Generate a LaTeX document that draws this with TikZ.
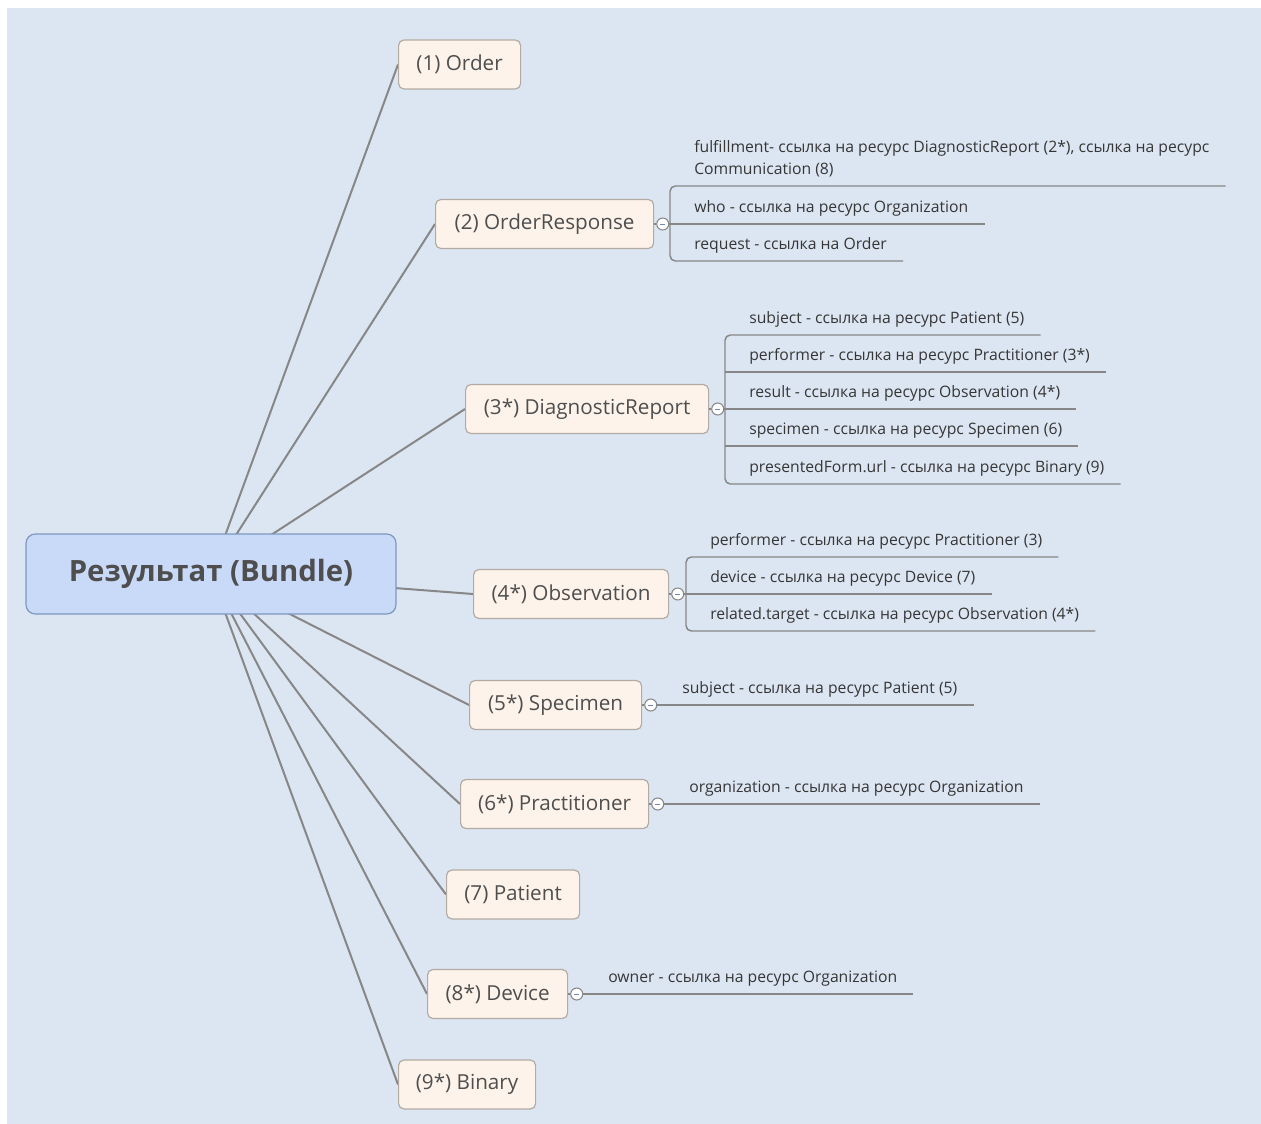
\documentclass[tikz,border=0pt]{standalone}
\usepackage{fontspec}
\setmainfont{Open Sans}
\usetikzlibrary{calc,positioning,backgrounds}
\definecolor{bgblue}{HTML}{DCE6F2}
\definecolor{rootfill}{HTML}{C9DAF8}
\definecolor{rootline}{HTML}{7D97C2}
\definecolor{childfill}{HTML}{FDF3EA}
\definecolor{childline}{HTML}{B3ABA3}
\definecolor{spokegray}{HTML}{878787}
\definecolor{txtgray}{HTML}{4E4E4E}
\definecolor{leaftxt}{HTML}{363636}
\definecolor{minuscol}{HTML}{6F86C8}

\begin{document}
\begin{tikzpicture}[x=0.75pt,y=-0.75pt,
	root/.style={draw=rootline, fill=rootfill, line width=0.9pt, rounded corners=7pt, minimum width=277.5pt, minimum height=60pt, font=\fontsize{22}{26}\selectfont\bfseries, text=txtgray},
	child/.style={draw=childline, fill=childfill, line width=0.9pt, rounded corners=4pt, minimum width=#1*0.75pt, minimum height=36.75pt, inner sep=0pt, anchor=west, font=\fontsize{15.5}{18}\selectfont, text=txtgray},
	leaf/.style={anchor=south west, inner xsep=12pt, inner ysep=5.75pt, text depth=2.5pt, align=left, font=\fontsize{11.8}{16.5}\selectfont, text=leaftxt},
	spoke/.style={draw=spokegray, line width=1.5pt},
	twig/.style={draw=spokegray, line width=1.1pt},
	fold/.style={circle, draw=spokegray, fill=white, line width=0.8pt, minimum size=9pt, inner sep=0pt,
		path picture={\draw[minuscol, line width=0.6pt] ([xshift=-2pt]path picture bounding box.center) -- ([xshift=2pt]path picture bounding box.center);}}
	]
			%%%%% START %%%%%
			
			\useasboundingbox (0,0) rectangle (1261,1124);
			
			\node[root] (bundle) at (211,574) {Результат (Bundle)};
			
			\node[child=122] (order) at (398,64.5) {(1) Order};
			\node[child=218] (ordresp) at (435,224) {(2) OrderResponse};
			\node[child=243] (diag) at (465,409) {(3*) DiagnosticReport};
			\node[child=195] (obs) at (473,594) {(4*) Observation};
			\node[child=172] (spec) at (469,705) {(5*) Specimen};
			\node[child=188] (pract) at (460,804) {(6*) Practitioner};
			\node[child=133] (patient) at (446,894.5) {(7) Patient};
			\node[child=140] (device) at (427,994) {(8*) Device};
			\node[child=137] (binary) at (398,1084.5) {(9*) Binary};
			
			% OrderResponse
			\node[fold, right=1.5pt of ordresp] (ordrespF) {};
			\coordinate (ordrespJ) at (670,224);
			\node[leaf] (fulfil) at (678,186) {fulfillment- ссылка на ресурс DiagnosticReport (2*), ссылка на ресурс\\Communication (8)};
			\node[leaf] (who) at (678,224) {who - ссылка на ресурс Organization};
			\node[leaf] (request) at (678,261) {request - ссылка на Order};
			\draw[twig] (ordresp.east) -- (ordrespF.west);
			\draw[twig] (ordrespF.east) -- (ordrespJ);
			\draw[twig, rounded corners=4pt] (fulfil.south east) -- (fulfil.south east -| ordrespJ) -- (request.south east -| ordrespJ) -- (request.south east);
			\draw[twig] (who.south east) -- (who.south east -| ordrespJ);
			
			% DiagnosticReport
			\node[fold, right=1.5pt of diag] (diagF) {};
			\coordinate (diagJ) at (725,409);
			\node[leaf] (subject) at (733,335) {subject - ссылка на ресурс Patient (5)};
			\node[leaf] (performer) at (733,372) {performer - ссылка на ресурс Practitioner (3*)};
			\node[leaf] (result) at (733,409) {result - ссылка на ресурс Observation (4*)};
			\node[leaf] (specimen) at (733,446) {specimen - ссылка на ресурс Specimen (6)};
			\node[leaf] (presented) at (733,484) {presentedForm.url - ссылка на ресурс Binary (9)};
			\draw[twig] (diag.east) -- (diagF.west);
			\draw[twig] (diagF.east) -- (diagJ);
			\draw[twig, rounded corners=4pt] (subject.south east) -- (subject.south east -| diagJ) -- (presented.south east -| diagJ) -- (presented.south east);
			\draw[twig] (performer.south east) -- (performer.south east -| diagJ);
			\draw[twig] (result.south east) -- (result.south east -| diagJ);
			\draw[twig] (specimen.south east) -- (specimen.south east -| diagJ);
			
			% Observation
			\node[fold, right=1.5pt of obs] (obsF) {};
			\coordinate (obsJ) at (686,594);
			\node[leaf] (obsperf) at (694,557) {performer - ссылка на ресурс Practitioner (3)};
			\node[leaf] (obsdev) at (694,594) {device - ссылка на ресурс Device (7)};
			\node[leaf] (related) at (694,631) {related.target - ссылка на ресурс Observation (4*)};
			\draw[twig] (obs.east) -- (obsF.west);
			\draw[twig] (obsF.east) -- (obsJ);
			\draw[twig, rounded corners=4pt] (obsperf.south east) -- (obsperf.south east -| obsJ) -- (related.south east -| obsJ) -- (related.south east);
			\draw[twig] (obsdev.south east) -- (obsdev.south east -| obsJ);
			
			% single leaves
			\node[fold, right=1.5pt of spec] (specF) {};
			\node[leaf] (specsubj) at (666,705) {subject - ссылка на ресурс Patient (5)};
			\draw[twig] (spec.east) -- (specF.west);
			\draw[twig] (specF.east) -- (specsubj.south east);
			
			\node[fold, right=1.5pt of pract] (practF) {};
			\node[leaf] (practorg) at (673,804) {organization - ссылка на ресурс Organization};
			\draw[twig] (pract.east) -- (practF.west);
			\draw[twig] (practF.east) -- (practorg.south east);
			
			\node[fold, right=1.5pt of device] (deviceF) {};
			\node[leaf] (owner) at (592,994) {owner - ссылка на ресурс Organization};
			\draw[twig] (device.east) -- (deviceF.west);
			\draw[twig] (deviceF.east) -- (owner.south east);
			
			\begin{pgfonlayer}{background}
				\fill[bgblue] (7,8) rectangle (1261,1124);
				\foreach \n in {order,ordresp,diag,obs,spec,pract,patient,device,binary}
					\draw[spoke] (bundle.center) -- (\n.west);
			\end{pgfonlayer}
			
			%%%%% END %%%%%
\end{tikzpicture}
\end{document}
